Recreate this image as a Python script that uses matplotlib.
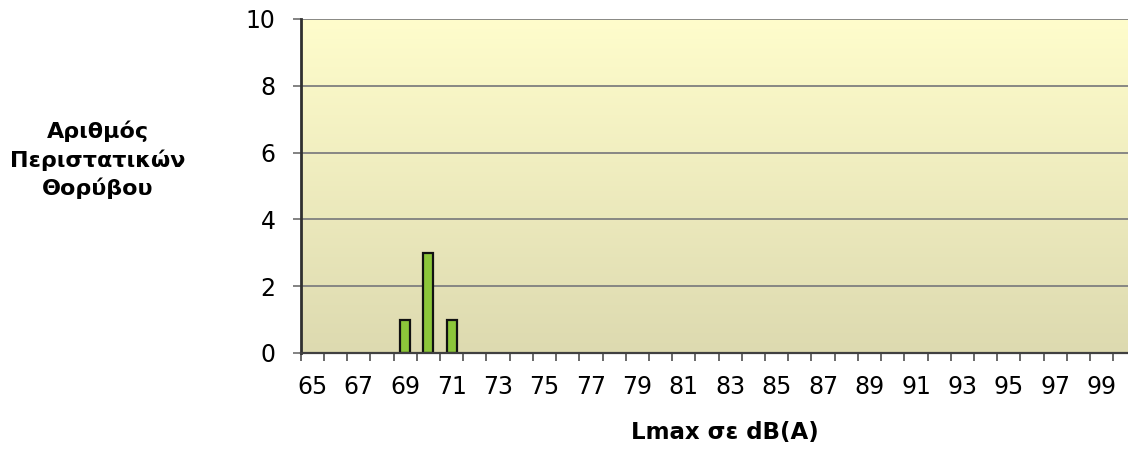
import numpy as np
import matplotlib
matplotlib.use("Agg")
import matplotlib.pyplot as plt
from matplotlib.colors import LinearSegmentedColormap

# Data
categories = list(range(65, 101))          # Lmax dB(A) bins
counts = [0, 0, 0, 0, 1, 3, 1] + [0] * (len(categories) - 7)
tick_labels = [str(c) if (c % 2 == 1) else "" for c in categories]
y_ticks = [0, 2, 4, 6, 8, 10]

W, H = 1128, 450
fig = plt.figure(figsize=(W / 100, H / 100), dpi=100)
fig.patch.set_facecolor("white")

left_px, right_px, top_px, bottom_px = 300.7, 1136.5, 19.0, 353.0
ax = fig.add_axes([left_px / W, 1 - bottom_px / H,
                   (right_px - left_px) / W, (bottom_px - top_px) / H])

n = len(categories)
x = np.arange(n)
ax.set_xlim(-0.5, n - 0.5)
ax.set_ylim(0, 10)

# gradient background
cmap = LinearSegmentedColormap.from_list("bg", ["#DDDAB0", "#FFFDCC"])
grad = np.linspace(0, 1, 256).reshape(-1, 1)
ax.imshow(grad, aspect="auto", cmap=cmap, origin="lower",
          extent=[-0.5, n - 0.5, 0, 10], zorder=0)

# gridlines
for yv in y_ticks[1:]:
    ax.axhline(yv, color="#7F7F7F", lw=1.3, zorder=1)

lws = [1.6 if c > 0 else 0 for c in counts]
ax.bar(x, counts, width=0.43, color="#8CC63A", edgecolor="#111111",
       linewidth=lws, zorder=3)

ax.set_xticks(np.arange(n + 1) - 0.5, minor=False)
ax.set_xticklabels([])
ax.set_xticks(x, minor=True)
ax.set_xticklabels(tick_labels, minor=True)
ax.tick_params(axis="x", which="major", length=6, width=1.1, color="#404040",
               direction="out")
ax.tick_params(axis="x", which="minor", length=0, pad=16, labelsize=17,
               labelcolor="black")
ax.set_yticks(y_ticks)
ax.set_yticklabels([str(v) for v in y_ticks])
ax.tick_params(axis="y", length=6, width=1.1, color="#606060",
               direction="out", labelsize=17, pad=12)

for s in ["top", "right"]:
    ax.spines[s].set_visible(False)
ax.spines["left"].set_color("#303030")
ax.spines["left"].set_linewidth(2)
ax.spines["bottom"].set_color("#404040")
ax.spines["bottom"].set_linewidth(1.6)
ax.spines["left"].set_zorder(4)
ax.spines["bottom"].set_zorder(4)

fig.text(98 / W, 1 - 160 / H, "Αριθμός\nΠεριστατικών\nΘορύβου",
         ha="center", va="center", fontsize=16, fontweight="bold",
         linespacing=1.4)
fig.text(725 / W, 1 - 432 / H, "Lmax σε dB(A)", ha="center", va="center",
         fontsize=16.5, fontweight="bold")

fig.savefig("out.png", dpi=100)
